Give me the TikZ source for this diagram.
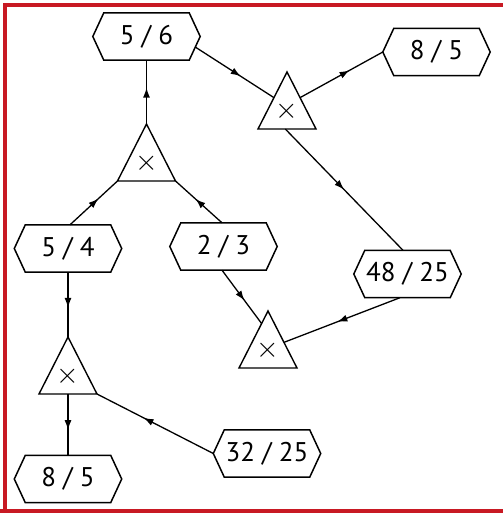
\RequirePackage{fix-cm}
\documentclass[tikz,border=0pt]{standalone}
\usepackage{fontspec}
\setmainfont{PT Sans}
\usetikzlibrary{calc,arrows.meta,decorations.markings}
\tikzset{
  hexbox/.style={draw=none, minimum width=107pt, minimum height=47pt, inner sep=0pt,
    font=\fontsize{27}{29}\selectfont},
  hexline/.style={line width=1.5pt, line join=miter},
  triline/.style={line width=1.4pt, line join=miter},
  crossmark/.style={inner sep=0pt, font=\fontsize{29}{31}\selectfont},
  flow/.style={line width=1.3pt, postaction={decorate},
    decoration={markings, mark=at position #1 with {\arrow{Latex[length=10pt,width=7pt]}}}},
  flow/.default=0.57,
  frameline/.style={draw={rgb,255:red,200;green,25;blue,35}, line width=4pt}
}
\newcommand\hexnode[3]{%
  \node[hexbox] (#1) at (#2) {#3};
  \draw[hexline] (#1.west) -- ([xshift=11pt]#1.north west) -- ([xshift=-11pt]#1.north east)
    -- (#1.east) -- ([xshift=-11pt]#1.south east) -- ([xshift=11pt]#1.south west) -- cycle;}
\newcommand\trinode[3]{%
  \coordinate (#1a) at (#2,#3);
  \coordinate (#1l) at (#2-29,#3+57);
  \coordinate (#1r) at (#2+29,#3+57);
  \draw[triline] (#1a) -- (#1l) -- (#1r) -- cycle;
  \node[crossmark] (#1) at (#2,#3+39) {$\times$};}
\begin{document}
\begin{tikzpicture}[x=1pt,y=-1pt]
\useasboundingbox (0,0) rectangle (503,513);
% frame
\draw[frameline] (5,513) -- (5,5) -- (503,5);
\draw[frameline] (0,511) -- (503,511);
% hexagons
\hexnode{h56}{146.5,36.5}{5 / 6}
\hexnode{h85a}{436.5,52}{8 / 5}
\hexnode{h4825}{407.5,274}{48 / 25}
\hexnode{h54}{68,248.5}{5 / 4}
\hexnode{h23}{223.5,246.5}{2 / 3}
\hexnode{h85b}{68,479}{8 / 5}
\hexnode{h3225}{267,453.5}{32 / 25}
% triangles
\trinode{t1}{146.5}{124}
\trinode{t2}{287}{72}
\trinode{t3}{268}{311}
\trinode{t4}{68}{337}
% connectors
\draw[flow] (t1a) -- (h56.south);
\draw[flow=0.6] ([xshift=2pt]h54.north) -- (t1l);
\draw[flow] ([xshift=-1.5pt]h23.north) -- (t1r);
\draw[flow=0.58] ($(h56.east)+(-5,10.5)$) -- ($(t2a)!0.45!(t2l)$);
\draw[flow=0.6] ($(t2a)!0.45!(t2r)$) -- (h85a.west);
\draw[flow=0.5] ($(t2l)!0.47!(t2r)$) -- ([xshift=-4.5pt]h4825.north);
\draw[flow=0.54] ([xshift=-7.5pt]h4825.south) -- ($(t3a)!0.55!(t3r)$);
\draw[flow] ([xshift=-1.5pt]h23.south) -- ($(t3a)!0.22!(t3l)$);
\draw[flow] ($(t3l)!0.5!(t3r)$) -- ($(t3l)!0.5!(t3r)$ |- h3225.north);
\draw[flow=0.55] (h54.south) -- (t4a);
\draw[flow=0.6] (h3225.west) -- (t4r);
\draw[flow=0.59] ($(t4l)!0.5!(t4r)$) -- (h85b.north);
\end{tikzpicture}
\end{document}
